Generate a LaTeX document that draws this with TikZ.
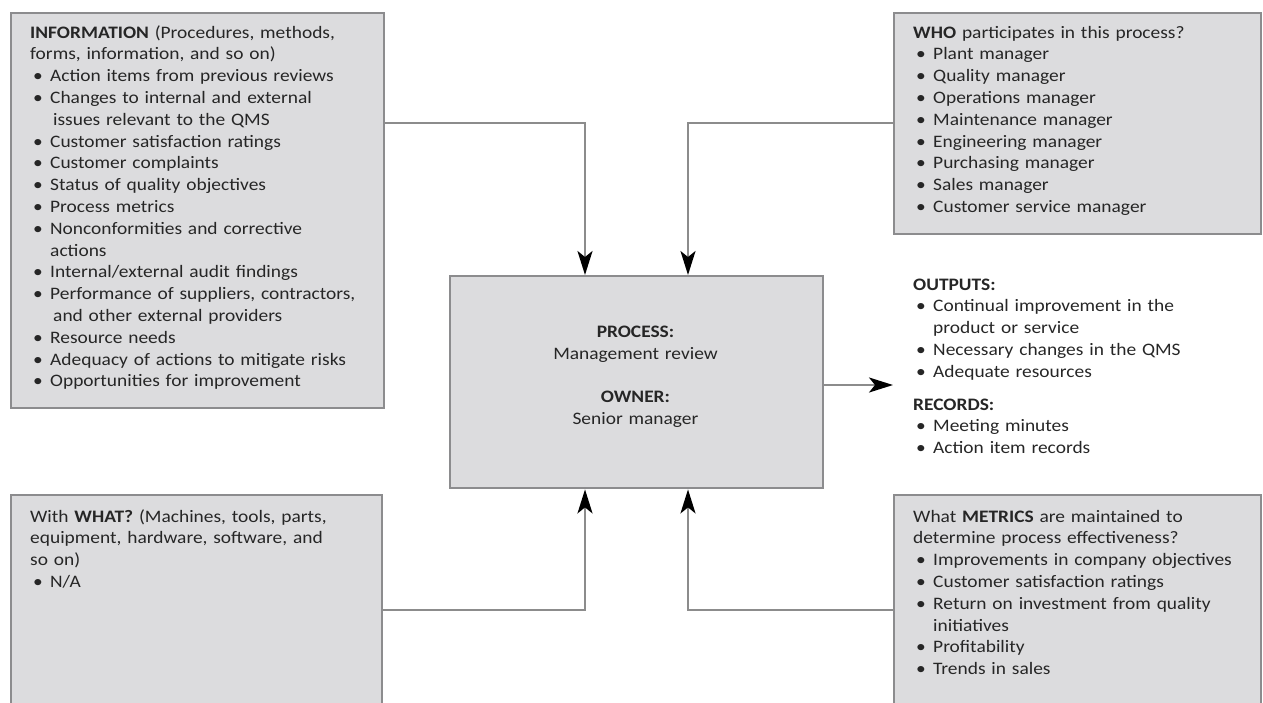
\documentclass[tikz,border=0pt]{standalone}
\usepackage{fontspec}
\setmainfont{Carlito}[FakeStretch=1.11]
\usetikzlibrary{arrows.meta}

\definecolor{panelfill}{RGB}{220,220,222}
\definecolor{paneledge}{RGB}{140,140,142}
\definecolor{linkgray}{RGB}{140,140,140}
\definecolor{ink}{RGB}{38,38,38}

% bullet item with hanging indent; \cont continues an item on a new line
\newcommand\bul{\par\hangindent=20pt\hangafter=1\noindent\makebox[20pt][l]{\hspace{3pt}\textbullet}}
\newcommand\cont{\newline\hspace*{3pt}}

\begin{document}
\begin{tikzpicture}[x=1pt,y=-1pt,
  panel/.style={draw=paneledge, fill=panelfill, line width=2.4pt, inner sep=0pt, anchor=north west},
  txt/.style={anchor=base west, inner sep=0pt, text width=#1, align=left, text=ink,
              font=\fontsize{17.5}{21.8}\selectfont},
  txt/.default=345pt,
  conn/.style={draw=linkgray, line width=2.2pt,
               -{Stealth[length=24pt,width=15pt,inset=6pt,color=black]}}
]
\useasboundingbox (0,0) rectangle (1263,702);
\clip (0,0) rectangle (1263,702);

% panels
\node[panel, minimum width=373pt, minimum height=395pt] (info) at (10,12) {};
\node[panel, minimum width=367pt, minimum height=221pt] (who) at (893,12) {};
\node[panel, minimum width=373pt, minimum height=212pt] (proc) at (449,275) {};
\node[panel, minimum width=371pt, minimum height=240pt] (what) at (10,494) {};
\node[panel, minimum width=367pt, minimum height=240pt] (metrics) at (893,494) {};

% panel texts
\node[txt] (infotext) at (30,38) {\textbf{INFORMATION} (Procedures, methods,\newline forms, information, and so on)
  \bul Action items from previous reviews
  \bul Changes to internal and external\cont issues relevant to the QMS
  \bul Customer satisfaction ratings
  \bul Customer complaints
  \bul Status of quality objectives
  \bul Process metrics
  \bul Nonconformities and corrective\newline actions
  \bul Internal/external audit findings
  \bul Performance of suppliers, contractors,\cont and other external providers
  \bul Resource needs
  \bul Adequacy of actions to mitigate risks
  \bul Opportunities for improvement};

\node[txt] (whotext) at (913,38) {\textbf{WHO} participates in this process?
  \bul Plant manager
  \bul Quality manager
  \bul Operations manager
  \bul Maintenance manager
  \bul Engineering manager
  \bul Purchasing manager
  \bul Sales manager
  \bul Customer service manager};

\node[txt=300pt, anchor=base, align=center] (proctext) at (635.5,337.5) {\textbf{PROCESS:}\\
  Management review\\[21.8pt]
  \textbf{OWNER:}\\
  Senior manager};

\node[txt] (outtext) at (913,290) {\textbf{OUTPUTS:}
  \bul Continual improvement in the\newline product or service
  \bul Necessary changes in the QMS
  \bul Adequate resources
  \par\vskip11pt\noindent\textbf{RECORDS:}
  \bul Meeting minutes
  \bul Action item records};

\node[txt] (whattext) at (30,522) {With \textbf{WHAT?} (Machines, tools, parts,\newline equipment, hardware, software, and\newline so on)
  \bul N/A};

\node[txt] (metricstext) at (913,522) {What \textbf{METRICS} are maintained to\newline determine process effectiveness?
  \bul Improvements in company objectives
  \bul Customer satisfaction ratings
  \bul Return on investment from quality\newline initiatives
  \bul Profitability
  \bul Trends in sales};

% bend points of the connectors
\coordinate (inbend) at (585,123);
\coordinate (whobend) at (688,123);
\coordinate (whatbend) at (585,610);
\coordinate (metbend) at (688,610);
\coordinate (outtip) at (893,385);

% connectors
\draw[conn] (info.east |- inbend) -- (inbend) -- (inbend |- proc.north);
\draw[conn] (who.west |- whobend) -- (whobend) -- (whobend |- proc.north);
\draw[conn] (what.east |- whatbend) -- (whatbend) -- (whatbend |- proc.south);
\draw[conn] (metrics.west |- metbend) -- (metbend) -- (metbend |- proc.south);
\draw[conn] (proc.east |- outtip) -- (outtip);
\end{tikzpicture}
\end{document}
